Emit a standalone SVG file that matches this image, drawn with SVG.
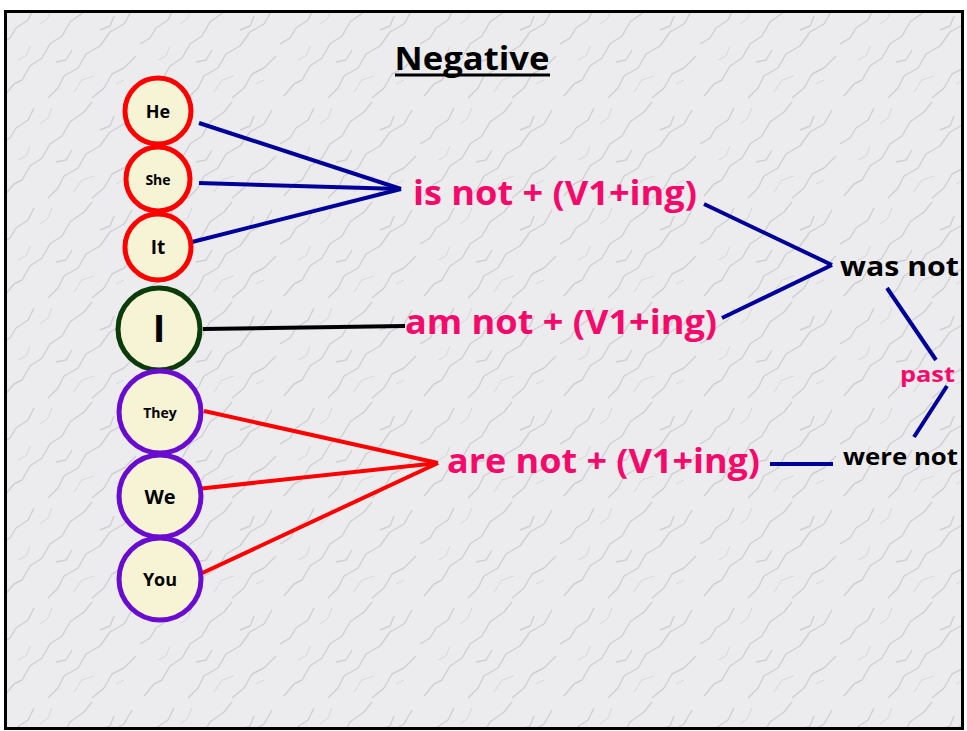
<svg xmlns="http://www.w3.org/2000/svg" width="967" height="731" viewBox="0 0 967 731">
<style>
.node{fill:#f6f4d4;stroke-width:5}
.hs{stroke:#ff0000}
.ig{stroke:#0b3a0b}
.tw{stroke:#6a0ccf}
.lbl{font-family:"Open Sans",Lato,"Liberation Sans",sans-serif;font-weight:bold;fill:#000;text-anchor:middle}
.pk{font-family:"Open Sans",Lato,"Liberation Sans",sans-serif;font-weight:bold;fill:#f50a6b}
.bk{font-family:"Open Sans",Lato,"Liberation Sans",sans-serif;font-weight:bold;fill:#000}
.navy{stroke:#000099;stroke-width:4;fill:none}
.red{stroke:#ff0000;stroke-width:4;fill:none}
.blk{stroke:#000;stroke-width:4;fill:none}
</style>
<defs>
<pattern id="marble" width="140" height="100" patternUnits="userSpaceOnUse">
<rect width="140" height="100" fill="#ececee"/>
<g fill="none" stroke="#85858d" stroke-opacity="0.28" stroke-width="1.4" stroke-linejoin="round">
<path d="M4 96 L14 84 L22 80 L30 66 L42 58 L50 44 L62 36 L70 22 L84 12 L92 2"/>
<path d="M48 98 L58 88 L64 76 L78 68 L86 54 L100 46 L110 32 L124 24 L132 10"/>
<path d="M92 98 L104 88 L112 74 L124 68 L136 56"/>
<path d="M0 44 L10 38 L16 28 L28 20 L34 8"/>
<path d="M56 62 L66 60 L72 50"/>
<path d="M100 30 L110 26 L114 16"/>
</g>
<g fill="none" stroke="#a8a8b0" stroke-opacity="0.3" stroke-width="1">
<path d="M18 60 L26 56 L30 46"/>
<path d="M74 92 L82 80 L94 76"/>
<path d="M116 84 L124 80"/>
<path d="M40 24 L48 18 L52 8"/>
</g>
</pattern>
</defs>
<rect x="0" y="0" width="967" height="731" fill="#ffffff"/>
<rect x="5.5" y="11.5" width="957" height="717" fill="url(#marble)" stroke="#000" stroke-width="3"/>

<g id="title">
<text x="472" y="70" class="bk" font-size="33" text-anchor="middle" textLength="155" lengthAdjust="spacingAndGlyphs">Negative</text>
<line x1="395" y1="75" x2="550" y2="75" stroke="#000" stroke-width="3"/>
</g>

<g id="connectors">
<line class="navy" x1="199" y1="123" x2="401" y2="189"/>
<line class="navy" x1="199" y1="183" x2="401" y2="189"/>
<line class="navy" x1="192" y1="242" x2="401" y2="189"/>
<line class="blk" x1="203" y1="329" x2="405" y2="326"/>
<line class="red" x1="204" y1="411" x2="438" y2="463"/>
<line class="red" x1="197" y1="489" x2="438" y2="463"/>
<line class="red" x1="198" y1="575" x2="438" y2="463"/>
<line class="navy" x1="704" y1="204" x2="832" y2="265"/>
<line class="navy" x1="722" y1="318" x2="832" y2="265"/>
<line class="navy" x1="887" y1="288" x2="936" y2="360"/>
<line class="navy" x1="947" y1="386" x2="914" y2="437"/>
<line class="navy" x1="770" y1="464" x2="833" y2="464"/>
</g>

<g id="he"><circle class="node hs" cx="158" cy="111" r="33"/><text class="lbl" x="158" y="118" font-size="18">He</text></g>
<g id="she"><circle class="node hs" cx="158" cy="179" r="32"/><text class="lbl" x="158" y="185" font-size="14">She</text></g>
<g id="it"><circle class="node hs" cx="158" cy="247" r="33"/><text class="lbl" x="158" y="254" font-size="19">It</text></g>
<g id="i"><circle class="node ig" cx="159" cy="329" r="41"/><text class="lbl" x="159" y="342" font-size="38">I</text></g>
<g id="they"><circle class="node tw" cx="160" cy="412" r="41"/><text class="lbl" x="160" y="418" font-size="14">They</text></g>
<g id="we"><circle class="node tw" cx="160" cy="496" r="41"/><text class="lbl" x="160" y="504" font-size="20">We</text></g>
<g id="you"><circle class="node tw" cx="160" cy="579" r="41"/><text class="lbl" x="160" y="586" font-size="18">You</text></g>

<g id="is-not"><text class="pk" x="413" y="205" font-size="34" textLength="284" lengthAdjust="spacingAndGlyphs">is not + (V1+ing)</text></g>
<g id="am-not"><text class="pk" x="405" y="334" font-size="34" textLength="312" lengthAdjust="spacingAndGlyphs">am not + (V1+ing)</text></g>
<g id="are-not"><text class="pk" x="447" y="473" font-size="34" textLength="313" lengthAdjust="spacingAndGlyphs">are not + (V1+ing)</text></g>
<g id="was-not"><text class="bk" x="840" y="276" font-size="27" textLength="119" lengthAdjust="spacingAndGlyphs">was not</text></g>
<g id="past"><text class="pk" x="900" y="382" font-size="22" textLength="55" lengthAdjust="spacingAndGlyphs">past</text></g>
<g id="were-not"><text class="bk" x="843" y="465" font-size="23" textLength="115" lengthAdjust="spacingAndGlyphs">were not</text></g>
</svg>
